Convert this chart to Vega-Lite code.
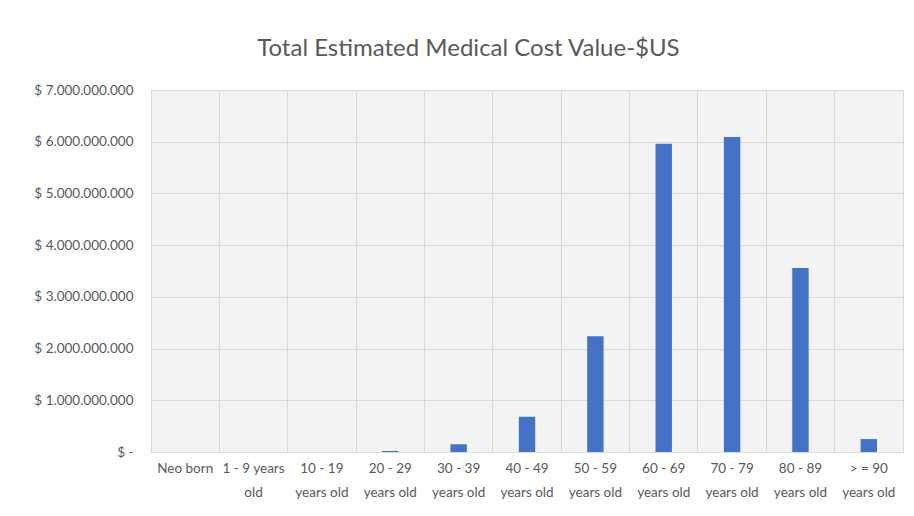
{
  "$schema": "https://vega.github.io/schema/vega-lite/v6.json",
  "width": 752,
  "height": 362,
  "autosize": "none",
  "padding": {"left": 151, "top": 90, "right": 11, "bottom": 64},
  "background": "white",
  "config": {
    "locale": {"number": {"decimal": ",", "thousands": ".", "grouping": [3], "currency": ["$ ", ""]}},
    "view": {"fill": "#f3f3f3", "stroke": "#d9d9d9", "strokeWidth": 1},
    "font": "Lato"
  },
  "title": {
    "text": "Total Estimated Medical Cost Value-$US",
    "font": "Lato",
    "fontSize": 24,
    "fontWeight": "normal",
    "color": "#595959",
    "anchor": "middle",
    "frame": "bounds",
    "offset": 22
  },
  "data": {
    "values": [
      {"age": "Neo born", "cost": 0},
      {"age": "1 - 9 years|old", "cost": 0},
      {"age": "10 - 19|years old", "cost": 0},
      {"age": "20 - 29|years old", "cost": 20000000},
      {"age": "30 - 39|years old", "cost": 150000000},
      {"age": "40 - 49|years old", "cost": 680000000},
      {"age": "50 - 59|years old", "cost": 2240000000},
      {"age": "60 - 69|years old", "cost": 5960000000},
      {"age": "70 - 79|years old", "cost": 6090000000},
      {"age": "80 - 89|years old", "cost": 3560000000},
      {"age": "> = 90|years old", "cost": 250000000}
    ]
  },
  "mark": {"type": "bar", "color": "#4472C4", "width": {"band": 0.24}},
  "encoding": {
    "x": {
      "field": "age",
      "type": "nominal",
      "sort": null,
      "title": null,
      "scale": {"paddingInner": 0, "paddingOuter": 0},
      "axis": {
        "labelAngle": 0,
        "labelExpr": "split(datum.label, '|')",
        "labelFont": "Lato",
        "labelFontSize": 13.5,
        "labelColor": "#595959",
        "labelLineHeight": 24,
        "labelPadding": 9,
        "labelBaseline": "top",
        "ticks": false,
        "domain": true,
        "domainColor": "#d9d9d9",
        "grid": true,
        "gridColor": "#d9d9d9",
        "bandPosition": 0
      }
    },
    "y": {
      "field": "cost",
      "type": "quantitative",
      "title": null,
      "scale": {"domain": [0, 7000000000]},
      "axis": {
        "values": [0, 1000000000, 2000000000, 3000000000, 4000000000, 5000000000, 6000000000, 7000000000],
        "format": "$,.0f",
        "labelExpr": "datum.value == 0 ? '$ -' : datum.label",
        "labelFont": "Lato",
        "labelFontSize": 13.5,
        "labelColor": "#595959",
        "labelPadding": 18,
        "ticks": false,
        "domain": false,
        "grid": true,
        "gridColor": "#d9d9d9"
      }
    }
  }
}
